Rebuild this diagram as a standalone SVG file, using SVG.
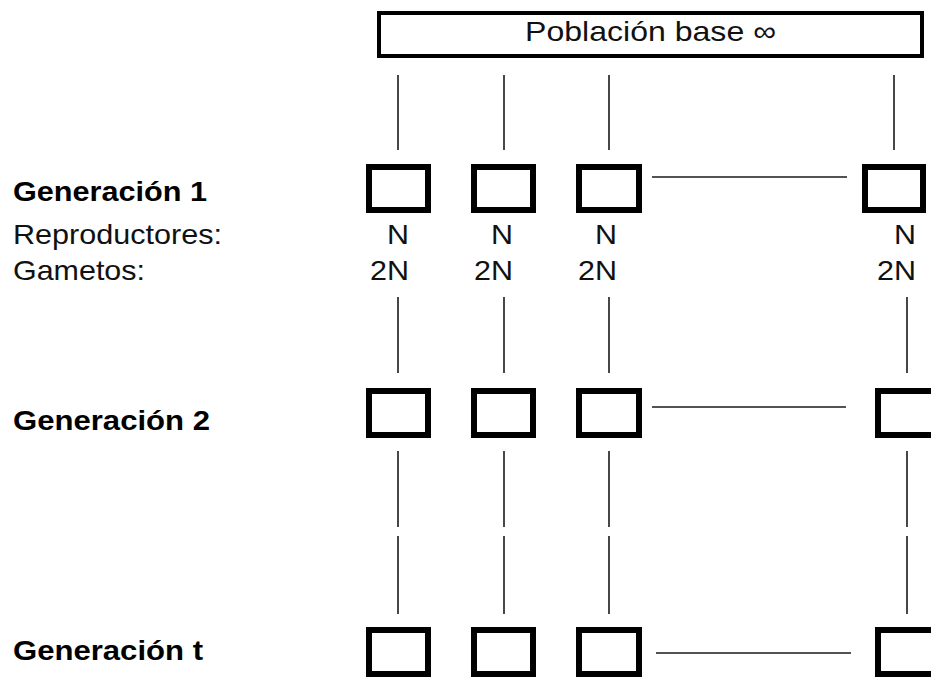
<svg xmlns="http://www.w3.org/2000/svg" width="931" height="678" viewBox="0 0 931 678">
  <style>
    .box { fill: #ffffff; stroke: #000000; stroke-width: 6; }
    .base { fill: #ffffff; stroke: #000000; stroke-width: 4; }
    .ln { stroke: #1a1a1a; stroke-width: 1.6; fill: none; }
    .t { font-family: "Liberation Sans", Arial, sans-serif; font-size: 28px; fill: #111111; }
    .b { font-weight: bold; fill: #000000; }
  </style>
  <rect width="931" height="678" fill="#ffffff"/>

  <!-- base population -->
  <g id="base">
    <rect class="base" x="379" y="13" width="543" height="43"/>
    <text class="t" x="525" y="41" textLength="251" lengthAdjust="spacingAndGlyphs">Población base ∞</text>
  </g>

  <!-- row labels -->
  <g id="labels">
    <text class="t b" x="13" y="201" textLength="194" lengthAdjust="spacingAndGlyphs">Generación 1</text>
    <text class="t" x="13" y="244" textLength="209" lengthAdjust="spacingAndGlyphs">Reproductores:</text>
    <text class="t" x="13" y="280" textLength="132" lengthAdjust="spacingAndGlyphs">Gametos:</text>
    <text class="t b" x="13" y="430" textLength="197" lengthAdjust="spacingAndGlyphs">Generación 2</text>
    <text class="t b" x="13" y="660" textLength="190" lengthAdjust="spacingAndGlyphs">Generación t</text>
  </g>

  <!-- connectors -->
  <g id="connectors">
    <line class="ln" x1="398" y1="75" x2="398" y2="150"/>
    <line class="ln" x1="504" y1="75" x2="504" y2="150"/>
    <line class="ln" x1="609" y1="75" x2="609" y2="150"/>
    <line class="ln" x1="894" y1="75" x2="894" y2="150"/>

    <line class="ln" x1="398" y1="297" x2="398" y2="373"/>
    <line class="ln" x1="504" y1="297" x2="504" y2="373"/>
    <line class="ln" x1="609" y1="297" x2="609" y2="373"/>
    <line class="ln" x1="907" y1="297" x2="907" y2="373"/>

    <line class="ln" x1="398" y1="451" x2="398" y2="527"/>
    <line class="ln" x1="504" y1="451" x2="504" y2="527"/>
    <line class="ln" x1="609" y1="451" x2="609" y2="527"/>
    <line class="ln" x1="907" y1="451" x2="907" y2="527"/>

    <line class="ln" x1="398" y1="536" x2="398" y2="614"/>
    <line class="ln" x1="504" y1="536" x2="504" y2="614"/>
    <line class="ln" x1="609" y1="536" x2="609" y2="614"/>
    <line class="ln" x1="907" y1="536" x2="907" y2="614"/>

    <line class="ln" x1="652" y1="177" x2="847" y2="177"/>
    <line class="ln" x1="652" y1="407" x2="846" y2="407"/>
    <line class="ln" x1="656" y1="653" x2="851" y2="653"/>
  </g>

  <!-- generation 1 -->
  <g id="g1-n1"><rect class="box" x="369" y="167" width="59" height="43"/>
    <text class="t" x="409" y="244" text-anchor="end" textLength="22" lengthAdjust="spacingAndGlyphs">N</text>
    <text class="t" x="409" y="280" text-anchor="end" textLength="39" lengthAdjust="spacingAndGlyphs">2N</text></g>
  <g id="g1-n2"><rect class="box" x="474" y="167" width="59" height="43"/>
    <text class="t" x="513" y="244" text-anchor="end" textLength="22" lengthAdjust="spacingAndGlyphs">N</text>
    <text class="t" x="513" y="280" text-anchor="end" textLength="39" lengthAdjust="spacingAndGlyphs">2N</text></g>
  <g id="g1-n3"><rect class="box" x="579" y="167" width="60" height="43"/>
    <text class="t" x="617" y="244" text-anchor="end" textLength="22" lengthAdjust="spacingAndGlyphs">N</text>
    <text class="t" x="617" y="280" text-anchor="end" textLength="39" lengthAdjust="spacingAndGlyphs">2N</text></g>
  <g id="g1-nN"><rect class="box" x="865" y="167" width="58" height="43"/>
    <text class="t" x="916" y="244" text-anchor="end" textLength="22" lengthAdjust="spacingAndGlyphs">N</text>
    <text class="t" x="916" y="280" text-anchor="end" textLength="39" lengthAdjust="spacingAndGlyphs">2N</text></g>

  <!-- generation 2 -->
  <g id="g2-n1"><rect class="box" x="369" y="391" width="59" height="44"/></g>
  <g id="g2-n2"><rect class="box" x="474" y="391" width="59" height="44"/></g>
  <g id="g2-n3"><rect class="box" x="579" y="391" width="60" height="44"/></g>
  <g id="g2-nN"><rect class="box" x="878" y="391" width="59" height="44"/></g>

  <!-- generation t -->
  <g id="gt-n1"><rect class="box" x="369" y="630" width="59" height="44"/></g>
  <g id="gt-n2"><rect class="box" x="474" y="630" width="59" height="44"/></g>
  <g id="gt-n3"><rect class="box" x="579" y="630" width="60" height="44"/></g>
  <g id="gt-nN"><rect class="box" x="878" y="630" width="59" height="44"/></g>
</svg>
